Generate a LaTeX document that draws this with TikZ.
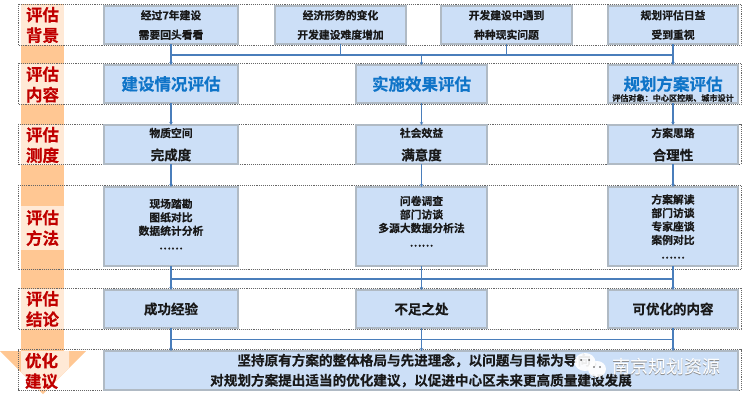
\documentclass[tikz,border=0pt]{standalone}
\usepackage{fontspec}
\usetikzlibrary{arrows.meta}
\setmainfont{Noto Sans CJK SC}[BoldFont={Noto Sans CJK SC Bold},BoldFeatures={FakeBold=0.3}]
\definecolor{boxfill}{HTML}{CCDFF7}
\definecolor{boxline}{HTML}{B0BAC4}
\definecolor{flow}{HTML}{4A7EBB}
\definecolor{band}{HTML}{FFC793}
\definecolor{labelbg}{HTML}{FFE9D6}
\definecolor{labeltext}{HTML}{C00000}
\definecolor{titleblue}{HTML}{0F74C8}
\definecolor{frameline}{HTML}{666666}
\tikzset{
 x=1pt,y=-1pt,
 bx/.style={draw=boxline,line width=1.2pt,fill=boxfill,inner sep=0pt,outer sep=0pt,font=\bfseries\fontsize{10.8}{13.5}\selectfont,align=center,text=black!90},
 framebox/.style={draw=frameline,densely dotted,line width=0.9pt,inner sep=0pt,outer sep=0pt},
 lab/.style={fill=labelbg,inner sep=0pt,outer sep=0pt,text width=43pt,align=center,text=labeltext,font=\bfseries\fontsize{16.5}{20.5}\selectfont},
 flowline/.style={draw=flow,line width=1.2pt},
 arr/.style={flowline,-{Stealth[length=3pt,width=3.5pt]}},
 big/.style={font=\bfseries\fontsize{16.5}{20}\selectfont,text=titleblue},
 mid/.style={font=\bfseries\fontsize{13.5}{16}\selectfont,text=black!90},
}
\begin{document}
\begin{tikzpicture}
\useasboundingbox (0,0) rectangle (744,401);
% orange band with arrow
\fill[band] (21,4) rectangle (64,351);
\fill[band] (0,351) -- (86,351) -- (43,394) -- cycle;
\fill[labelbg] (21,351) -- (69,351) -- (69,368) -- (47,390) -- (39,390) -- (21,372) -- cycle;
% label backgrounds
\node[lab,minimum height=40pt,anchor=north west] (l1) at (21,5) {评估\\背景};
\node[lab,minimum height=40pt,anchor=north west] (l2) at (21,64.5) {评估\\内容};
\node[lab,minimum height=40pt,anchor=north west] (l3) at (21,125) {评估\\测度};
\node[lab,minimum height=44pt,anchor=north west] (l4) at (21,206) {评估\\方法};
\node[lab,minimum height=40pt,anchor=north west] (l5) at (21,289) {评估\\结论};
\node[lab,fill=none,minimum height=40pt,anchor=north west] (l6) at (20,351) {优化\\建议};
% frames
\foreach \n/\t/\b in {f1/4.5/45.5,f2/63.5/104.5,f3/124/164.5,f4/185/269,f5/288/329,f6/349.5/390}{
 \draw[framebox] (18,\t) rectangle (741,\b);
}
% boxes
\node[bx,minimum width=134pt,minimum height=38pt,anchor=north west] (a1) at (104,6) {经过7年建设\\[6pt]需要回头看看};
\node[bx,minimum width=131pt,minimum height=38pt,anchor=north west] (a2) at (275,6) {经济形势的变化\\[6pt]开发建设难度增加};
\node[bx,minimum width=131pt,minimum height=38pt,anchor=north west] (a3) at (441,6) {开发建设中遇到\\[6pt]种种现实问题};
\node[bx,minimum width=130pt,minimum height=38pt,anchor=north west] (a4) at (608,6) {规划评估日益\\[6pt]受到重视};
\node[bx,big,minimum width=134pt,minimum height=38pt,anchor=north west] (b1) at (104,65) {建设情况评估};
\node[bx,big,minimum width=131pt,minimum height=38pt,anchor=north west] (b2) at (356,65) {实施效果评估};
\node[bx,big,minimum width=130pt,minimum height=38pt,anchor=north west] (b3) at (608,65) {};
\node[big] (b3t) at (673,84) {规划方案评估};
\node[font=\bfseries\fontsize{8.1}{9}\selectfont,text=black!90,inner sep=0pt] (b3s) at (673,98) {评估对象：中心区控规、城市设计};
\foreach \n/\x/\w/\a/\b in {c1/104/134/物质空间/完成度,c2/356/131/社会效益/满意度,c3/608/130/方案思路/合理性}{
 \node[bx,minimum width=\w pt,minimum height=39pt,anchor=north west] (\n) at (\x,125) {};
 \node[font=\bfseries\fontsize{10.8}{12}\selectfont,text=black!90,inner sep=0pt] (\n a) at (\x+\w/2,133) {\a};
 \node[mid,inner sep=0pt] (\n b) at (\x+\w/2,155) {\b};
}
\node[bx,minimum width=134pt,minimum height=79pt,anchor=north west] (d1) at (104,187) {\\[-9pt]现场踏勘\\图纸对比\\数据统计分析\\[1pt]……};
\node[bx,minimum width=131pt,minimum height=79pt,anchor=north west] (d2) at (356,187) {问卷调查\\部门访谈\\多源大数据分析法\\[1pt]……\\[-3pt]};
\node[bx,minimum width=130pt,minimum height=79pt,anchor=north west] (d3) at (608,187) {方案解读\\部门访谈\\专家座谈\\案例对比\\[1pt]……};
\node[bx,mid,minimum width=134pt,minimum height=38pt,anchor=north west] (e1) at (104,290) {成功经验};
\node[bx,mid,minimum width=131pt,minimum height=38pt,anchor=north west] (e2) at (356,290) {不足之处};
\node[bx,mid,minimum width=130pt,minimum height=38pt,anchor=north west] (e3) at (608,290) {可优化的内容};
\node[bx,font=\bfseries\fontsize{13.6}{20}\selectfont,minimum width=634pt,minimum height=39pt,anchor=north west] (g) at (104,351) {坚持原有方案的整体格局与先进理念，以问题与目标为导向，\\对规划方案提出适当的优化建议，以促进中心区未来更高质量建设发展};
% connectors
\coordinate (h1) at (171,55);
\draw[flowline] (a1.south) -- (h1) -- (a4.south |- h1) -- (a4.south);
\draw[flowline] (a2.south) -- (a2.south |- h1);
\draw[flowline] (a3.south) -- (a3.south |- h1);
\draw[arr] (h1) -- (b1.north);
\draw[arr] (b2.north |- h1) -- (b2.north);
\draw[arr] (a4.south |- h1) -- (b3.north);
\foreach \u/\v in {b1/c1,b2/c2,b3/c3,c1/d1,c2/d2,c3/d3}{ \draw[arr] (\u.south) -- (\v.north); }
\coordinate (h2) at (171,279);
\draw[flowline] (h2) -- (d3.south |- h2);
\foreach \u/\v in {d1/e1,d2/e2,d3/e3}{ \draw[arr] (\u.south) -- (\v.north); }
\coordinate (h3) at (171,339.5);
\draw[flowline] (h3) -- (e3.south |- h3);
\foreach \u in {e1,e2,e3}{ \draw[arr] (\u.south) -- (\u.south |- g.north); }
% watermark
\fill[white,opacity=.92] (585,362) ellipse (10.5pt and 9pt);
\fill[white,opacity=.92] (597,369) ellipse (9pt and 8pt);
\fill[black!70] (581,360) circle (1pt) (589,360) circle (1pt) (594,367) circle (.8pt) (600,367) circle (.8pt);
\node[text=black!45,font=\fontsize{18}{20}\selectfont,inner sep=0pt] (ws) at (666.6,367.6) {南京规划资源};
\node[text=white,font=\fontsize{18}{20}\selectfont,inner sep=0pt] (w) at (666,367) {南京规划资源};
\end{tikzpicture}
\end{document}
